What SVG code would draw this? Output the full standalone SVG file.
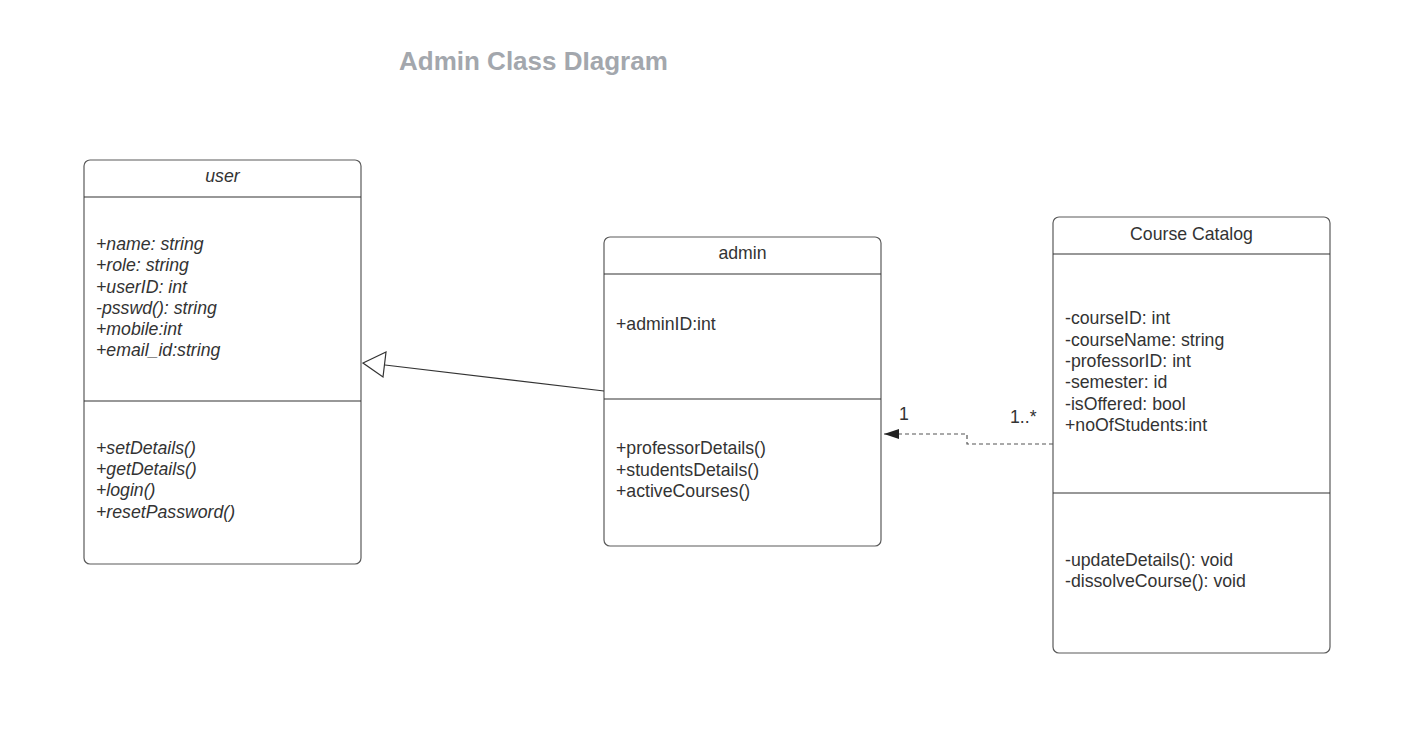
<svg xmlns="http://www.w3.org/2000/svg" width="1415" height="731" viewBox="0 0 1415 731">
<style>
.box{fill:#fff;stroke:#5a5a5a;stroke-width:1.2}
.ln{stroke:#333;stroke-width:1.2}
.t{font-family:"Liberation Sans",Arial,sans-serif;font-size:17.7px;fill:#333}
.i{font-style:italic}
.c{text-anchor:middle}
.title{font-family:"Liberation Sans",Arial,sans-serif;font-size:26px;font-weight:bold;fill:#a3a7ad}
.conn{fill:none;stroke:#333;stroke-width:1.2}
.dash{fill:none;stroke:#555;stroke-width:1.2;stroke-dasharray:4,3}
</style>
<defs>
<marker id="dep" markerWidth="16" markerHeight="12" refX="15" refY="6" orient="auto" markerUnits="userSpaceOnUse">
<path d="M0,1 L15,6 L0,11 Z" fill="#222"/>
</marker>
</defs>
<rect width="1415" height="731" fill="#fff"/>
<text class="title" x="399" y="70">Admin Class DIagram</text>

<g id="user">
<rect class="box" x="84" y="160" width="277" height="404" rx="6"/>
<line class="ln" x1="84" y1="197" x2="361" y2="197"/>
<line class="ln" x1="84" y1="401" x2="361" y2="401"/>
<text class="t i c" x="222.5" y="182">user</text>
<text class="t i" x="96" y="250">+name: string</text>
<text class="t i" x="96" y="271">+role: string</text>
<text class="t i" x="96" y="293">+userID: int</text>
<text class="t i" x="96" y="314">-psswd(): string</text>
<text class="t i" x="96" y="335">+mobile:int</text>
<text class="t i" x="96" y="356">+email_id:string</text>
<text class="t i" x="96" y="454">+setDetails()</text>
<text class="t i" x="96" y="475">+getDetails()</text>
<text class="t i" x="96" y="496">+login()</text>
<text class="t i" x="96" y="518">+resetPassword()</text>
</g>

<g id="admin">
<rect class="box" x="604" y="237" width="277" height="309" rx="6"/>
<line class="ln" x1="604" y1="274" x2="881" y2="274"/>
<line class="ln" x1="604" y1="399" x2="881" y2="399"/>
<text class="t c" x="742.5" y="259">admin</text>
<text class="t" x="616" y="330">+adminID:int</text>
<text class="t" x="616" y="454">+professorDetails()</text>
<text class="t" x="616" y="476">+studentsDetails()</text>
<text class="t" x="616" y="497">+activeCourses()</text>
</g>

<g id="course-catalog">
<rect class="box" x="1053" y="217" width="277" height="436" rx="6"/>
<line class="ln" x1="1053" y1="254" x2="1330" y2="254"/>
<line class="ln" x1="1053" y1="493" x2="1330" y2="493"/>
<text class="t c" x="1191.5" y="240">Course Catalog</text>
<text class="t" x="1065" y="324">-courseID: int</text>
<text class="t" x="1065" y="346">-courseName: string</text>
<text class="t" x="1065" y="367">-professorID: int</text>
<text class="t" x="1065" y="388">-semester: id</text>
<text class="t" x="1065" y="410">-isOffered: bool</text>
<text class="t" x="1065" y="431">+noOfStudents:int</text>
<text class="t" x="1065" y="566">-updateDetails(): void</text>
<text class="t" x="1065" y="587">-dissolveCourse(): void</text>
</g>

<g id="connectors">
<line class="conn" x1="604" y1="391" x2="385" y2="365"/>
<path d="M363,363 L386,352 L383,377 Z" fill="#fff" stroke="#333" stroke-width="1.2"/>
<path class="dash" d="M1053,444 L967,444 L967,434 L884,434" marker-end="url(#dep)"/>
<text class="t" x="899" y="420">1</text>
<text class="t" x="1010" y="423">1..*</text>
</g>
</svg>
